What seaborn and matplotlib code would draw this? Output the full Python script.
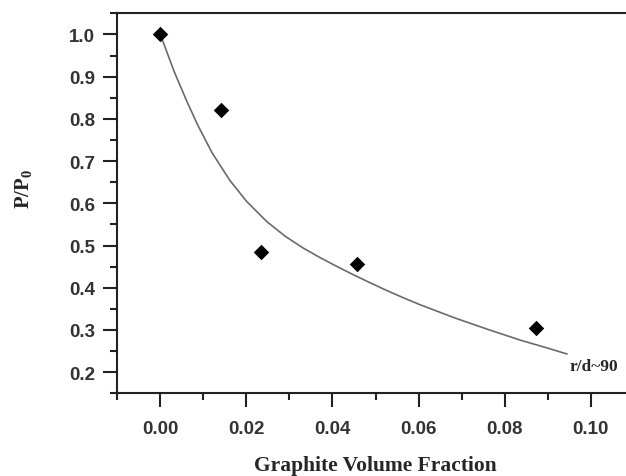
"""
plot.py

Recreates the P/P0 vs graphite volume fraction chart with a fitted
r/d~90 curve, and saves it as out.png.
"""

import matplotlib
matplotlib.use("Agg")
import matplotlib.pyplot as plt
import numpy as np
import pandas as pd
import seaborn as sns

graphite_fraction = [0.0, 0.0142, 0.0235, 0.0457, 0.0873]
p_ratio = [1.0, 0.822, 0.485, 0.457, 0.304]

# model curve r/d~90
curve_fraction = [0.0, 0.0020, 0.0033, 0.0060, 0.0087, 0.0120, 0.0161,
                  0.0200, 0.0247, 0.0290, 0.0332, 0.0370, 0.0409, 0.0450,
                  0.0487, 0.0525, 0.0563, 0.0603, 0.0680, 0.0759, 0.0836,
                  0.0900, 0.0945]
curve_ratio = [1.0, 0.945, 0.910, 0.845, 0.785, 0.720, 0.655,
               0.605, 0.557, 0.522, 0.494, 0.472, 0.451, 0.430,
               0.412, 0.394, 0.377, 0.360, 0.330, 0.302, 0.276,
               0.257, 0.243]

x_ticks = [0.00, 0.02, 0.04, 0.06, 0.08, 0.10]
y_ticks = [0.2, 0.3, 0.4, 0.5, 0.6, 0.7, 0.8, 0.9, 1.0]
curve_label = "r/d~90"


def main() -> None:
    sns.set_theme(style="ticks")
    plt.rcParams["mathtext.fontset"] = "custom"
    plt.rcParams["mathtext.bf"] = "Liberation Serif:bold"
    plt.rcParams["mathtext.rm"] = "Liberation Serif:bold"

    df_points = pd.DataFrame({"x": graphite_fraction, "y": p_ratio})
    df_curve = pd.DataFrame({"x": curve_fraction, "y": curve_ratio})

    fig = plt.figure(figsize=(6.26, 4.77), dpi=100)
    ax = fig.add_axes([0.1874, 0.1734, 0.825, 0.7966])

    sns.lineplot(data=df_curve, x="x", y="y", sort=False, estimator=None,
                 color="#6a6a6a", linewidth=1.2, ax=ax)
    sns.scatterplot(data=df_points, x="x", y="y", marker="D", s=62,
                    color="black", linewidth=0, ax=ax, zorder=3)

    ax.text(0.0950, 0.214, curve_label, ha="left", va="center",
            fontsize=12.5, fontweight="bold", family="Liberation Serif")

    ax.set_xlim(-0.01, 0.11)
    ax.set_ylim(0.15, 1.05)
    ax.set_xticks(x_ticks)
    ax.set_xticklabels([f"{v:.2f}" for v in x_ticks])
    ax.set_xticks(np.arange(-0.01, 0.115, 0.02), minor=True)
    ax.set_yticks(y_ticks)
    ax.set_yticklabels([f"{v:.1f}" for v in y_ticks])
    ax.set_yticks(np.arange(0.15, 1.06, 0.1), minor=True)

    for side in ["left", "bottom", "top"]:
        ax.spines[side].set_linewidth(1.5)
        ax.spines[side].set_color("#222222")
    ax.spines["right"].set_visible(False)

    ax.tick_params(which="major", length=10, width=1.5, color="#222222",
                   direction="out")
    ax.tick_params(which="minor", length=5, width=1.5, color="#222222",
                   direction="out")
    ax.tick_params(axis="y", which="major", pad=6)
    ax.tick_params(axis="x", which="major", pad=9)
    ax.tick_params(top=False, right=False, which="both")
    for lab in ax.get_xticklabels() + ax.get_yticklabels():
        lab.set_family("Liberation Sans")
        lab.set_fontweight("bold")
        lab.set_fontsize(13.5)
        lab.set_color("#333333")

    ax.set_xlabel("Graphite Volume Fraction", fontsize=15.5,
                  fontweight="bold", family="Liberation Serif")
    ax.set_ylabel(r"$\mathbf{P/P_0}$", fontsize=15)
    ax.xaxis.set_label_coords(0.5, -0.189)
    ax.xaxis.label.set_va("center")
    ax.yaxis.set_label_coords(-0.182, 0.54)
    ax.yaxis.label.set_va("center")

    fig.savefig("out.png", dpi=100)
    plt.close(fig)


if __name__ == "__main__":
    main()
